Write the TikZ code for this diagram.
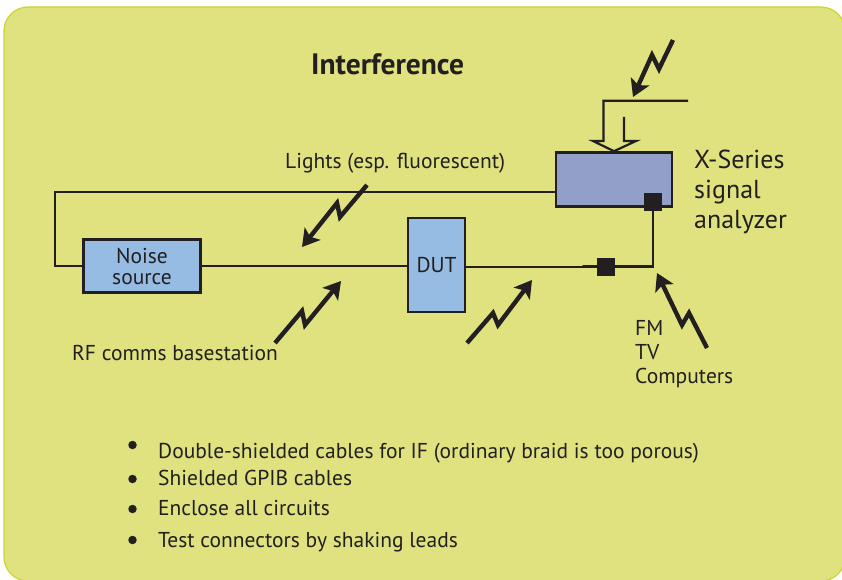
\documentclass[tikz,border=0pt]{standalone}
\usepackage{fontspec}
\setmainfont{PT Sans}
\usetikzlibrary{arrows.meta}
\definecolor{panelfill}{HTML}{DFE27F}
\definecolor{panelline}{HTML}{CBD52F}
\definecolor{boxblue}{HTML}{97BCE4}
\definecolor{boxviolet}{HTML}{929FC9}
\definecolor{inkdark}{HTML}{231F20}
\tikzset{
    wire/.style={draw=inkdark, line width=2pt},
    unitbox/.style={draw=inkdark, line width=2pt, inner sep=0pt, align=center, text=inkdark, font=\fontsize{21.5}{22}\selectfont},
    joint/.style={fill=inkdark, inner sep=0pt, minimum size=18pt},
    bolt/.style={draw=inkdark, line width=4.4pt, miter limit=10, -{Stealth[length=17pt,width=20pt,inset=4pt]}},
    lbl/.style={inner sep=0pt, anchor=west, text=inkdark, font=\fontsize{21.5}{24}\selectfont},
    dot/.style={circle, fill=inkdark, inner sep=0pt, minimum size=8.5pt}
}
\begin{document}
\begin{tikzpicture}[x=1pt, y=-1pt]
    \useasboundingbox (0,0) rectangle (842,580);
    \fill[white] (0,0) rectangle (842,580);
    \draw[panelline, fill=panelfill, line width=1.2pt, rounded corners=24pt] (4,7) rectangle (845,581);

    \node[lbl, font=\fontsize{29.5}{30}\selectfont\bfseries] (title) at (311,64) {Interference};

    % units
    \node[unitbox, fill=boxviolet, line width=2.6pt, minimum width=116pt, minimum height=54pt] (analyzer) at (614,179.5) {};
    \node[unitbox, fill=boxblue, line width=3.6pt, minimum width=117pt, minimum height=53pt] (noise) at (142,266) {Noise\\[-1pt]source};
    \node[unitbox, fill=boxblue, line width=2.4pt, minimum width=57pt, minimum height=94pt] (dut) at (436.5,265) {DUT};

    % cables
    \coordinate (leftlow) at (55,266);
    \coordinate (lefttop) at (55,192);
    \coordinate (bendlow) at (653,266.5);
    \coordinate (thickstart) at (583,266.5);
    \draw[wire] (noise.west) -- (leftlow) -- (lefttop) -- (lefttop -| analyzer.west);
    \draw[wire] (noise.east) -- (noise.east -| dut.west);
    \node[joint] (jointlow) at (606,267) {};
    \node[joint] (jointtop) at (653,202) {};
    \draw[wire] (dut.east |- bendlow) -- (thickstart);
    \draw[wire, line width=2.6pt, line cap=round] (thickstart) -- (bendlow) -- (jointtop);

    % antenna
    \coordinate (mastend) at (688,100.7);
    \coordinate (mastcorner) at (603.5,100.7);
    \coordinate (headleft) at (593,141);
    \coordinate (headright) at (636,141);
    \coordinate (stemleft) at (603.5,141);
    \coordinate (stemright) at (624,141);
    \coordinate (stemtop) at (624,117);
    \draw[wire, line width=2.2pt] (mastend) -- (mastcorner) -- (stemleft) -- (headleft) -- (analyzer.north) -- (headright) -- (stemright) -- (stemtop);

    % interference
    \coordinate (topa) at (673,40);
    \coordinate (topb) at (659,69);
    \coordinate (topc) at (652,55);
    \coordinate (topd) at (633,97);
    \draw[bolt] (topa) -- (topb) -- (topc) -- (topd);
    \coordinate (lighta) at (367,185);
    \coordinate (lightb) at (340,217);
    \coordinate (lightc) at (337,203);
    \coordinate (lightd) at (302,247);
    \draw[bolt] (lighta) -- (lightb) -- (lightc) -- (lightd);
    \coordinate (rfa) at (275,343);
    \coordinate (rfb) at (302,311);
    \coordinate (rfc) at (305,325);
    \coordinate (rfd) at (341,281);
    \draw[bolt] (rfa) -- (rfb) -- (rfc) -- (rfd);
    \coordinate (duta) at (467,343);
    \coordinate (dutb) at (493,313);
    \coordinate (dutc) at (498,325);
    \coordinate (dutd) at (532,280);
    \draw[bolt] (duta) -- (dutb) -- (dutc) -- (dutd);
    \coordinate (fma) at (707,348);
    \coordinate (fmb) at (689,313);
    \coordinate (fmc) at (682,325);
    \coordinate (fmd) at (657,273);
    \draw[bolt] (fma) -- (fmb) -- (fmc) -- (fmd);

    % labels
    \node[lbl] (lights) at (285,163) {Lights (esp. fluorescent)};
    \node[lbl, font=\fontsize{26}{30}\selectfont, align=left, anchor=north west] (analyzerlbl) at (694,150) {X-Series\\signal\\analyzer};
    \node[lbl] (rflbl) at (72,353) {RF comms basestation};
    \node[lbl, align=left, anchor=north west] (fmlbl) at (635,320.5) {FM\\TV\\Computers};

    % list
    \foreach \name/\ypos/\dotpos/\txt in {
        one/453/445/Double-shielded cables for IF (ordinary braid is too porous),
        two/478/479/Shielded GPIB cables,
        three/508/509/Enclose all circuits,
        four/542/540/Test connectors by shaking leads}{
        \node[lbl] (item\name) at (158,\ypos) {\txt};
        \node[dot] (dot\name) at (132.5,\dotpos) {};
    }
\end{tikzpicture}
\end{document}
